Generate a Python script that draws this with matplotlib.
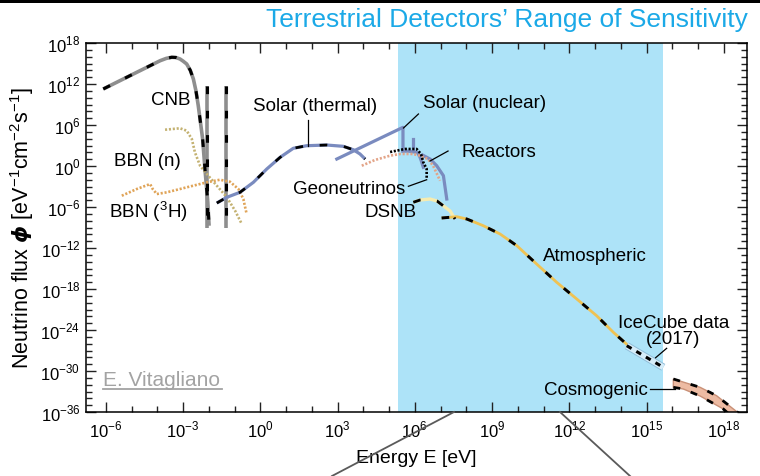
import numpy as np
import matplotlib
matplotlib.use("Agg")
import matplotlib.pyplot as plt
from matplotlib.lines import Line2D
from matplotlib.patches import Rectangle
from matplotlib.ticker import FixedLocator, FuncFormatter, NullFormatter

plt.rcParams["font.family"] = ["Liberation Sans", "DejaVu Sans"]
plt.rcParams["mathtext.fontset"] = "custom"
plt.rcParams["mathtext.rm"] = "Liberation Sans"
plt.rcParams["mathtext.it"] = "DejaVu Sans:italic:bold"
plt.rcParams["mathtext.bf"] = "Liberation Sans:bold"
plt.rcParams["lines.scale_dashes"] = False

# ---- spectra: log10(E / eV) and log10(flux / eV^-1 cm^-2 s^-1) ----
cnb_logE = [-6.10, -4.80, -3.89, -3.65, -3.44, -3.28, -3.12, -3.00, -2.86, -2.72,
            -2.60, -2.50, -2.41, -2.24, -2.15, -2.04, -1.99]
cnb_logF = [11.27, 13.71, 15.41, 15.75, 15.91, 15.88, 15.66, 15.35, 14.93, 14.00,
            12.73, 11.00, 8.82, 3.95, -0.44, -5.31, -8.74]

cnb_mass_logE = [-2.06, -1.33]
cnb_mass_logF = [11.75, -9.07]

bbn_n_logE = [-3.70, -3.12, -2.86, -2.66, -2.54, -2.34, -2.02, -1.69, -1.30, -0.98, -0.72]
bbn_n_logF = [5.31, 5.52, 5.17, 3.95, 2.00, 0.04, -1.42, -2.88, -4.58, -6.54, -8.49]

bbn_h3_logE = [-5.38, -4.80, -4.28, -4.18, -4.02, -3.63, -2.86, -2.08, -1.57, -1.18,
               -0.85, -0.66, -0.53]
bbn_h3_logF = [-4.35, -3.37, -2.64, -3.37, -4.10, -3.85, -3.12, -2.39, -2.01, -2.30,
               -3.37, -4.83, -7.03]

solar_th_logE = [-1.69, -1.30, -0.79, -0.27, 0.25, 0.77, 1.28, 1.80, 2.58, 3.22,
                 3.61, 3.87, 4.07]
solar_th_logF = [-5.42, -4.58, -3.85, -2.39, -0.44, 1.27, 2.59, 2.97, 3.07, 2.88,
                 2.38, 1.76, 1.02]

solar_pp_logE = [2.97, 5.54, 5.54]
solar_pp_logF = [1.02, 5.66, 2.19]
solar_cno_logE = [5.54, 5.80, 6.10, 6.20, 6.27, 6.33]
solar_cno_logF = [2.19, 2.15, 2.00, 1.30, 0.54, -0.19]
solar_be7_logE = [5.93, 5.93]
solar_be7_logF = [2.19, 3.95]
solar_b8_logE = [6.30, 6.60, 6.85, 7.11, 7.24]
solar_b8_logF = [1.60, 1.00, 0.04, -1.42, -4.83]

geo_logE = [5.04, 5.62, 6.07, 6.24, 6.33, 6.46, 6.46]
geo_logF = [2.05, 2.49, 2.49, 1.76, 0.54, -0.44, -1.90]

reactor_logE = [3.94, 4.45, 5.04, 5.43, 5.93, 6.20, 6.51, 6.71, 6.86, 6.98]
reactor_logF = [0.04, 0.88, 1.51, 1.76, 1.76, 1.51, 1.02, 0.04, -1.17, -2.15]

dsnb_logE = [5.94, 6.20, 6.59, 6.86, 7.10, 7.37, 7.56]
dsnb_logF = [-5.31, -4.98, -4.83, -5.12, -5.81, -6.59, -7.76]

atmo_logE = [7.04, 7.63, 8.02, 8.66, 9.31, 9.96, 10.73, 11.51, 12.29, 13.06, 13.71, 14.36]
atmo_logF = [-7.61, -7.42, -7.76, -8.74, -9.95, -11.66, -14.34, -17.02, -19.47, -21.91,
             -24.34, -26.53]

icecube_logE = [14.23, 14.94, 15.65]
icecube_logF = [-26.30, -27.88, -29.46]

cosmo_up_logE = [16.04, 17.08, 17.72, 18.37, 18.67]
cosmo_up_logF = [-31.17, -32.39, -33.62, -35.56, -36.44]
cosmo_lo_logE = [16.04, 16.43, 17.08, 17.98, 18.24]
cosmo_lo_logF = [-32.39, -32.64, -33.66, -35.56, -36.44]

# terrestrial detector sensitivity window, log10(E / eV)
sens_logE = [5.36, 15.65]

x_major = np.arange(-6, 19, 3)
y_major = np.arange(-36, 19, 6)


def pw(a):
    return 10.0 ** np.asarray(a, dtype=float)


DASH = (0, (5.5, 12))


def dashed(ax, lx, ly, color, lw=2.4, dash=DASH, blw=None, z=3):
    x, y = pw(lx), pw(ly)
    ax.plot(x, y, color=color, lw=lw, solid_capstyle="butt", solid_joinstyle="round", zorder=z)
    ax.plot(x, y, color="black", lw=blw or lw * 0.85, linestyle=dash,
            dash_capstyle="butt", zorder=z + 0.5)


def dotted(ax, lx, ly, color, lw=1.9, z=3):
    ax.plot(pw(lx), pw(ly), color=color, lw=lw, linestyle=(0, (1.5, 1.3)),
            dash_capstyle="butt", zorder=z)


def leader(ax, p0, p1):
    ax.plot(pw([p0[0], p1[0]]), pw([p0[1], p1[1]]), color="black", lw=0.9, zorder=6)


fig = plt.figure(figsize=(7.6, 4.77), dpi=100)
ax = fig.add_axes([86 / 760, 1 - 413 / 477, 661 / 760, 369 / 477])
ax.set_xscale("log")
ax.set_yscale("log")
ax.set_xlim(10 ** -6.77, 10 ** 18.9)
ax.set_ylim(1e-36, 1e18)

ax.axvspan(pw(sens_logE[0]), pw(sens_logE[1]), color="#ade3f8", lw=0, zorder=0)

# cosmic neutrino background and its mass lines
dashed(ax, cnb_logE, cnb_logF, "#8e8e8e", lw=2.6)
for lx in cnb_mass_logE:
    dashed(ax, [lx, lx], cnb_mass_logF, "#8e8e8e", lw=2.6)

# big-bang nucleosynthesis
dotted(ax, bbn_n_logE, bbn_n_logF, "#c4b272")
dotted(ax, bbn_h3_logE, bbn_h3_logF, "#e0a458")

# solar neutrinos
dashed(ax, solar_th_logE, solar_th_logF, "#7a8bbf", lw=2.3)
for lx, ly in [(solar_pp_logE, solar_pp_logF), (solar_cno_logE, solar_cno_logF),
               (solar_be7_logE, solar_be7_logF), (solar_b8_logE, solar_b8_logF)]:
    ax.plot(pw(lx), pw(ly), color="#7a8bbf", lw=2.3, zorder=3)

# reactors and geoneutrinos
dotted(ax, reactor_logE, reactor_logF, "#e3a488", z=4)
ax.plot(pw(geo_logE), pw(geo_logF), color="black", lw=1.9, linestyle=(0, (1.5, 1.2)),
        dash_capstyle="butt", zorder=5)

# diffuse supernova background and atmospheric neutrinos
dashed(ax, dsnb_logE, dsnb_logF, "#f6ecb0", lw=2.4)
dashed(ax, atmo_logE, atmo_logF, "#efc253", lw=2.0, blw=2.1)

# IceCube astrophysical flux
ax.plot(pw(icecube_logE), pw(icecube_logF), color="#8fbcd8", lw=5.5, zorder=3,
        solid_capstyle="butt")
ax.plot(pw(icecube_logE), pw(icecube_logF), color="#d6edf9", lw=4.2, zorder=3.2,
        solid_capstyle="butt")
ax.plot(pw(icecube_logE), pw(icecube_logF), color="black", lw=2.2, linestyle=(0, (4, 4)),
        dash_capstyle="butt", zorder=3.5)

# cosmogenic band
band_x = np.concatenate([pw(cosmo_up_logE), pw(cosmo_lo_logE)[::-1]])
band_y = np.concatenate([pw(cosmo_up_logF), pw(cosmo_lo_logF)[::-1]])
ax.fill(band_x, band_y, color="#edbba3", ec="#c99077", lw=1.0, zorder=3)
for lx, ly in [(cosmo_up_logE, cosmo_up_logF), (cosmo_lo_logE, cosmo_lo_logF)]:
    ax.plot(pw(lx), pw(ly), color="black", lw=2.0, linestyle=(0, (5, 8)),
            dash_capstyle="butt", zorder=3.5)

# labels
fs = 13.5
lab = dict(fontsize=fs, ha="center", va="center", zorder=7)
ax.text(pw(-3.47), pw(9.66), "CNB", **lab)
ax.text(pw(-4.38), pw(0.77), "BBN (n)", **lab)
ax.text(pw(-4.35), pw(-6.59), "BBN ($^3$H)", **lab)
ax.text(pw(2.12), pw(8.82), "Solar (thermal)", **lab)
leader(ax, (1.85, 6.73), (1.85, 2.93))
ax.text(pw(8.69), pw(9.22), "Solar (nuclear)", **lab)
leader(ax, (6.14, 7.61), (5.56, 5.56))
ax.text(pw(9.25), pw(2.19), "Reactors", **lab)
leader(ax, (7.29, 2.19), (6.59, 0.73))
ax.text(pw(3.43), pw(-3.29), "Geoneutrinos", **lab)
leader(ax, (5.75, -2.97), (6.46, -2.01))
ax.text(pw(5.04), pw(-6.59), "DSNB", **lab)
ax.text(pw(13.0), pw(-13.17), "Atmospheric", **lab)
ax.text(pw(16.04), pw(-24.1), "IceCube data\n(2017)", linespacing=0.95, **lab)
leader(ax, (15.78, -26.68), (15.35, -28.06))
ax.text(pw(13.02), pw(-32.78), "Cosmogenic", **lab)
leader(ax, (15.13, -32.7), (16.10, -32.7))

# author credit
ax.text(0.0257, 0.0894, "E. Vitagliano", transform=ax.transAxes, fontsize=15,
        color="#a3a3a3", ha="left", va="center", zorder=7)
ax.add_line(Line2D([0.0257, 0.2057], [0.0623, 0.0623], transform=ax.transAxes,
                   color="#a3a3a3", lw=1.3, zorder=7))

# axes and ticks
ax.xaxis.set_major_locator(FixedLocator(pw(x_major)))
ax.xaxis.set_minor_locator(FixedLocator(pw(np.arange(-7, 20))))
ax.yaxis.set_major_locator(FixedLocator(pw(y_major)))
ax.yaxis.set_minor_locator(FixedLocator(pw(np.arange(-36, 19))))
fmt = FuncFormatter(lambda v, p: r"$10^{%d}$" % int(round(np.log10(v))))
ax.xaxis.set_major_formatter(fmt)
ax.yaxis.set_major_formatter(fmt)
ax.xaxis.set_minor_formatter(NullFormatter())
ax.yaxis.set_minor_formatter(NullFormatter())
ax.tick_params(which="both", direction="in", top=True, right=True, width=1.0,
               color="#222222", labelsize=12)
ax.tick_params(which="major", length=7)
ax.tick_params(which="minor", length=4.5)
ax.tick_params(axis="x", pad=5)
ax.tick_params(axis="y", pad=4)
for s in ax.spines.values():
    s.set_linewidth(1.1)
    s.set_zorder(8)

ax.set_xlabel("Energy E [eV]", fontsize=14, labelpad=7)
ax.set_ylabel(r"Neutrino flux $\phi$ [eV$^{-1}$cm$^{-2}$s$^{-1}$]", fontsize=15.5, labelpad=3)

# title and frame decorations
fig.text(0.984, 0.958, "Terrestrial Detectors\u2019 Range of Sensitivity",
         fontsize=19, color="#1ba9e7", ha="right", va="center")
fig.add_artist(Rectangle((0, 1 - 4 / 477), 1, 4 / 477, transform=fig.transFigure,
                         color="black", lw=0))
for x0, x1 in [(454 / 760, 332 / 760), (560 / 760, 630 / 760)]:
    fig.add_artist(Line2D([x0, x1], [1 - 413 / 477, 0], transform=fig.transFigure,
                          color="#5a5a5a", lw=1.3))

fig.savefig("out.png", dpi=100)
